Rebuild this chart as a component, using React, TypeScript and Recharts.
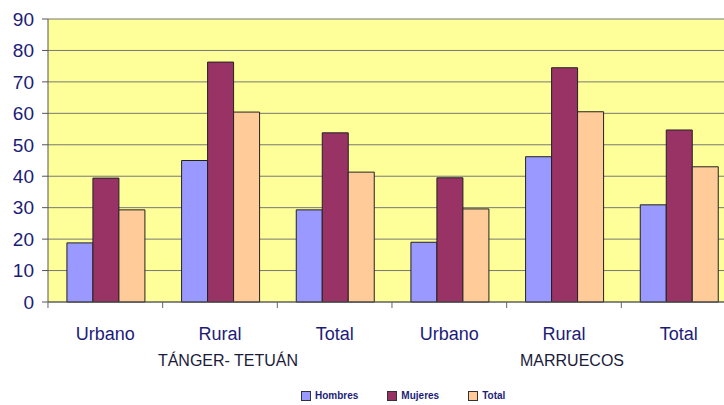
import React from "react";
import { BarChart, Bar, XAxis, YAxis, CartesianGrid, Legend } from "recharts";

const categories = ["Urbano", "Rural", "Total", "Urbano", "Rural", "Total"];
const regions = ["TÁNGER- TETUÁN", "MARRUECOS"];
const hombres = [18.8, 45.0, 29.3, 19.0, 46.2, 30.9];
const mujeres = [39.4, 76.3, 53.8, 39.5, 74.5, 54.7];
const total = [29.3, 60.4, 41.3, 29.6, 60.5, 43.0];
const yTicks = [0, 10, 20, 30, 40, 50, 60, 70, 80, 90];

const data = categories.map((c, i) => ({
  name: c,
  region: i === 1 ? regions[0] : i === 4 ? regions[1] : "",
  Hombres: hombres[i],
  Mujeres: mujeres[i],
  Total: total[i],
}));

const series = [
  { key: "Hombres", color: "#9999FF" },
  { key: "Mujeres", color: "#993366" },
  { key: "Total", color: "#FFCC99" },
];

const NAVY = "#1c1c78";

function CategoryTick(props: any) {
  const { x, y, payload, index } = props;
  const band = 114.7;
  const region = data[index]?.region;
  return (
    <g>
      <line x1={x - band / 2} y1={y - 8} x2={x - band / 2} y2={y - 2} stroke="#666" />
      <text x={x} y={y + 30} textAnchor="middle" fill={NAVY} fontSize={18} fontFamily="Liberation Sans, Arial, sans-serif">
        {payload.value}
      </text>
      {region ? (
        <text x={x + 8} y={y + 56} textAnchor="middle" fill="#1a1a3a" fontSize={16} fontFamily="Liberation Sans, Arial, sans-serif">
          {region}
        </text>
      ) : null}
    </g>
  );
}

function LegendContent() {
  return (
    <div style={{ display: "flex", fontFamily: "Liberation Sans, Arial, sans-serif", fontSize: 10, fontWeight: "bold", color: NAVY }}>
      {series.map((s, i) => (
        <div key={s.key} style={{ display: "flex", alignItems: "center", marginLeft: i === 0 ? 0 : 29 }}>
          <span style={{ display: "inline-block", width: 8, height: 8, background: s.color, border: "1px solid #333", marginRight: 4 }} />
          {s.key}
        </div>
      ))}
    </div>
  );
}

export default function App() {
  return (
    <div style={{ position: "absolute", left: 0, top: 0, width: 724, height: 405, overflow: "hidden", background: "#fff" }}>
      <BarChart
        width={750}
        height={405}
        data={data}
        margin={{ top: 19, right: 14, bottom: 43, left: 0 }}
        barCategoryGap="16.5%"
        barGap={0}
      >
        <CartesianGrid vertical={false} stroke="#777" fill="#FFFF99" fillOpacity={1} />
        <XAxis
          dataKey="name"
          height={60}
          tickLine={false}
          axisLine={{ stroke: "#555" }}
          tick={<CategoryTick />}
          interval={0}
        />
        <YAxis
          width={48}
          domain={[0, 90]}
          ticks={yTicks}
          interval={0}
          tickSize={6}
          tickMargin={8}
          axisLine={{ stroke: "#555" }}
          tickLine={{ stroke: "#555" }}
          tick={{ fill: NAVY, fontSize: 19, fontFamily: "Liberation Sans, Arial, sans-serif" }}
        />
        <Legend
          layout="horizontal"
          verticalAlign="middle"
          align="center"
          content={<LegendContent />}
          wrapperStyle={{ top: 390, left: 301, width: "auto" }}
        />
        {series.map((s) => (
          <Bar key={s.key} dataKey={s.key} fill={s.color} stroke="#222" strokeWidth={1} isAnimationActive={false} />
        ))}
      </BarChart>
    </div>
  );
}
